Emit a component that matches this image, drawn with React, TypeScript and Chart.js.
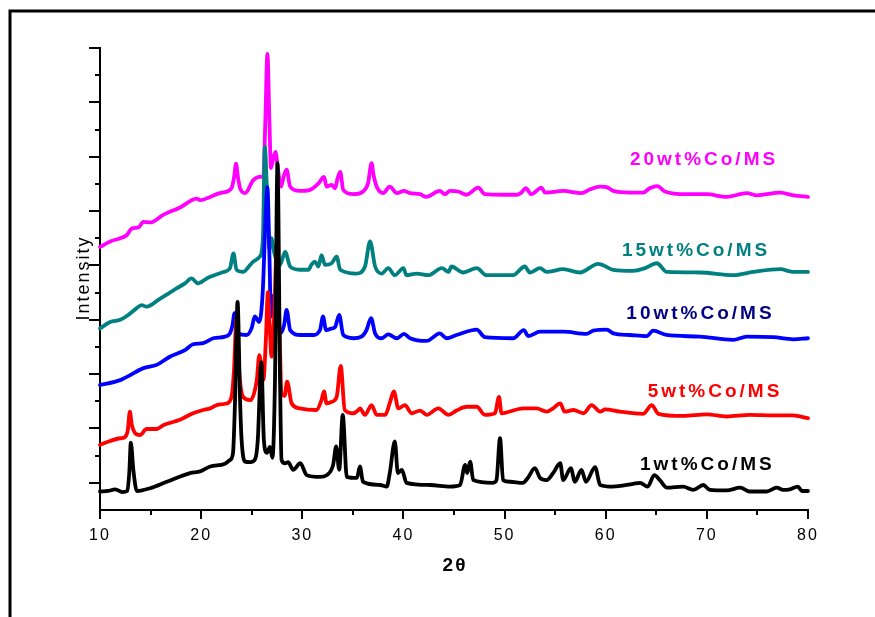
import React, { useEffect, useRef } from "react";
import { Chart, registerables } from "chart.js";

Chart.register(...registerables);

// ---- data (2θ in degrees, intensity in arbitrary offset units) ----
const xTickValues = [10, 20, 30, 40, 50, 60, 70, 80];
const seriesLabels = ["1wt%Co/MS", "5wt%Co/MS", "10wt%Co/MS", "15wt%Co/MS", "20wt%Co/MS"];
const seriesColors = ["#000000", "#ff0000", "#0000ff", "#008080", "#ff00ff"];
const labelTextColors = ["#000000", "#ff0000", "#000080", "#008080", "#ff00ff"];

const co1wt: [number, number][] = [
  [10.0, -16], [10.8, -15], [11.5, -12], [12.2, -17], [12.7, -15], [12.9, 20], [13.05, 74], [13.3, 23], [13.65, -15],
  [14.95, -10], [16.6, 2], [18.9, 18], [19.9, 21], [20.9, 30], [22.35, 35], [22.85, 42], [23.15, 55], [23.35, 150],
  [23.6, 333], [23.85, 150], [24.0, 79], [24.35, 39], [24.85, 38], [25.35, 44], [25.6, 79], [25.95, 222], [26.2, 79],
  [26.5, 55], [26.8, 66], [27.05, 46], [27.3, 189], [27.55, 588], [27.8, 189], [27.95, 42], [28.3, 36], [28.6, 38],
  [29.1, 24], [29.8, 36], [30.45, 14], [31.75, 11], [32.4, 14], [33.05, 33], [33.35, 67], [33.65, 24], [34.0, 125],
  [34.4, 11], [35.4, 9], [35.7, 30], [36.0, 2], [37.7, -4], [38.35, -7], [38.65, 18], [39.15, 76], [39.45, 18],
  [39.85, 24], [40.3, 0], [42.65, -4], [44.6, -7], [45.6, -4], [46.1, 33], [46.3, 18], [46.6, 39], [46.9, 5],
  [48.85, 0], [49.2, 5], [49.55, 82], [49.85, 5], [50.55, 2], [51.8, 0], [52.3, 9], [53.0, 27], [53.5, 9],
  [54.15, 5], [54.8, 18], [55.5, 36], [55.8, 5], [56.55, 27], [56.95, 2], [57.6, 24], [58.05, 2], [58.95, 29],
  [59.45, -4], [60.7, -7], [62.7, -2], [63.4, 0], [64.15, -7], [64.8, 14], [65.35, 5], [66.05, -9], [67.65, -7],
  [68.65, -13], [69.65, -4], [70.3, -13], [71.95, -14], [73.3, -9], [74.25, -16], [75.9, -16], [76.9, -9],
  [77.55, -13], [78.2, -12], [79.0, -7], [79.4, -15], [80.0, -15],
];

const co5wt: [number, number][] = [
  [10.0, 70], [11.0, 77], [12.0, 82], [12.45, 84], [12.75, 97], [12.95, 131], [13.15, 106], [13.45, 92], [13.95, 88],
  [14.6, 99], [15.6, 99], [16.25, 106], [17.9, 116], [19.2, 128], [20.2, 134], [20.9, 137], [21.55, 143], [22.5, 146],
  [23.0, 158], [23.25, 208], [23.5, 303], [23.75, 208], [24.15, 158], [24.85, 152], [25.5, 189], [25.75, 235],
  [26.15, 189], [26.4, 263], [26.6, 351], [26.8, 281], [26.95, 232], [27.2, 300], [27.5, 441], [27.75, 281],
  [27.95, 162], [28.25, 160], [28.5, 186], [28.95, 146], [29.75, 137], [31.4, 134], [31.9, 152], [32.15, 168],
  [32.4, 146], [32.9, 149], [33.4, 158], [33.8, 215], [34.2, 134], [35.05, 128], [35.55, 134], [35.7, 137],
  [36.2, 125], [36.85, 143], [37.35, 125], [38.2, 125], [38.65, 147], [39.05, 168], [39.5, 137], [40.15, 143],
  [40.8, 128], [41.65, 133], [42.3, 125], [43.45, 137], [44.45, 125], [45.25, 133], [46.25, 140], [47.25, 140],
  [48.05, 125], [49.05, 128], [49.45, 158], [49.7, 128], [51.85, 137], [53.15, 137], [54.15, 131], [54.8, 137],
  [55.5, 146], [55.95, 131], [56.8, 134], [57.8, 128], [58.6, 143], [59.45, 131], [59.95, 135], [61.4, 131],
  [63.7, 127], [64.55, 143], [65.2, 127], [67.65, 123], [70.0, 126], [71.95, 122], [74.25, 125], [76.55, 124],
  [78.5, 124], [80.0, 119],
];

const co10wt: [number, number][] = [
  [10.0, 180], [12.0, 189], [12.65, 195], [14.3, 211], [15.6, 217], [16.9, 232], [18.4, 244], [19.2, 255],
  [20.2, 257], [21.2, 266], [22.35, 269], [22.85, 275], [23.1, 290], [23.3, 312], [23.5, 290], [23.65, 275],
  [24.5, 272], [25.0, 285], [25.3, 306], [25.75, 296], [26.1, 355], [26.35, 480], [26.55, 544], [26.75, 420],
  [26.9, 306], [27.1, 340], [27.3, 346], [27.55, 318], [27.8, 275], [28.2, 290], [28.45, 318], [28.8, 281],
  [29.8, 272], [31.1, 272], [31.75, 281], [32.05, 306], [32.35, 281], [32.9, 284], [33.25, 287], [33.65, 309],
  [34.05, 272], [35.05, 266], [35.85, 269], [36.35, 281], [36.8, 303], [37.2, 275], [37.85, 266], [38.5, 273],
  [39.35, 266], [40.05, 274], [40.65, 266], [42.3, 261], [43.6, 275], [44.25, 266], [45.25, 272], [47.25, 282],
  [48.05, 268], [50.85, 266], [51.9, 281], [52.35, 270], [53.5, 278], [55.8, 278], [58.1, 274], [58.75, 280],
  [60.1, 282], [60.75, 275], [62.4, 272], [64.05, 270], [64.7, 280], [66.0, 272], [69.3, 269], [72.6, 263],
  [73.95, 269], [76.55, 268], [78.55, 264], [80.0, 266],
];

const co15wt: [number, number][] = [
  [10.0, 284], [11.0, 296], [12.0, 300], [12.65, 307], [13.6, 321], [14.1, 327], [14.6, 324], [15.95, 339],
  [17.6, 358], [18.4, 367], [19.05, 376], [19.7, 367], [20.55, 376], [20.9, 379], [22.2, 388], [22.85, 395],
  [23.2, 422], [23.5, 392], [24.15, 388], [24.85, 401], [25.15, 407], [25.8, 416], [26.1, 447], [26.3, 618],
  [26.5, 540], [26.75, 430], [26.95, 450], [27.2, 425], [27.45, 410], [27.8, 401], [28.3, 425], [28.8, 398],
  [29.75, 392], [30.6, 392], [30.9, 401], [31.25, 407], [31.6, 398], [31.9, 419], [32.25, 401], [32.9, 404],
  [33.4, 416], [33.75, 392], [35.35, 385], [36.2, 398], [36.7, 444], [37.2, 398], [37.85, 385], [38.5, 395],
  [39.15, 382], [40.0, 395], [40.3, 382], [41.3, 385], [42.45, 382], [43.8, 395], [44.45, 388], [44.75, 398],
  [45.9, 387], [47.25, 395], [48.2, 382], [50.85, 382], [52.0, 398], [52.5, 387], [53.5, 395], [54.15, 388],
  [55.8, 393], [57.45, 387], [59.25, 403], [60.75, 392], [62.7, 390], [63.9, 395], [65.05, 404], [66.05, 388],
  [69.3, 387], [72.6, 382], [74.6, 388], [77.25, 393], [78.55, 388], [80.0, 388],
];

const co20wt: [number, number][] = [
  [10.0, 434], [11.0, 444], [12.0, 450], [12.65, 456], [13.15, 468], [13.8, 470], [14.3, 480], [14.95, 479],
  [16.25, 493], [18.05, 508], [19.05, 520], [19.55, 523], [19.9, 520], [20.9, 526], [21.85, 533], [23.0, 542],
  [23.25, 561], [23.45, 587], [23.65, 561], [23.85, 542], [24.35, 533], [25.15, 557], [25.8, 563], [26.15, 563],
  [26.35, 667], [26.55, 789], [26.75, 667], [26.9, 579], [27.1, 594], [27.35, 609], [27.6, 576], [27.9, 545],
  [28.2, 566], [28.45, 576], [28.8, 545], [29.75, 537], [30.75, 539], [31.6, 551], [32.15, 563], [32.4, 545],
  [32.9, 548], [33.25, 542], [33.5, 561], [33.75, 572], [34.05, 539], [35.05, 531], [36.0, 536], [36.5, 551],
  [36.85, 588], [37.05, 566], [37.35, 545], [38.0, 533], [38.65, 545], [39.35, 533], [40.05, 537], [40.65, 533],
  [41.65, 531], [42.25, 526], [43.6, 537], [44.1, 531], [44.6, 537], [45.4, 536], [46.25, 530], [47.4, 543],
  [48.05, 531], [49.85, 530], [51.2, 530], [51.6, 533], [52.1, 542], [52.65, 531], [53.65, 543], [54.0, 534],
  [55.8, 537], [57.6, 533], [58.45, 540], [59.45, 545], [60.1, 544], [60.75, 537], [62.4, 534], [63.7, 534],
  [64.35, 542], [65.1, 546], [65.85, 536], [68.0, 531], [69.95, 531], [71.95, 526], [73.95, 533], [74.95, 529],
  [77.25, 534], [78.55, 529], [80.0, 526],
];

const allSeries = [co1wt, co5wt, co10wt, co15wt, co20wt];

const FONT = "'Liberation Sans', Arial, sans-serif";

export default function App() {
  const canvasRef = useRef<HTMLCanvasElement | null>(null);

  useEffect(() => {
    const canvas = canvasRef.current;
    if (!canvas) return;

    // label anchors in data coordinates (2θ, intensity)
    const labelAnchors: [number, number][] = [
      [69.9, 34], [70.66, 167], [69.22, 311], [68.78, 427], [69.57, 594],
    ];

    const decor = {
      id: "decor",
      beforeDraw(chart: any) {
        const ctx = chart.ctx as CanvasRenderingContext2D;
        ctx.save();
        ctx.fillStyle = "#ffffff";
        ctx.fillRect(0, 0, chart.width, chart.height);
        ctx.strokeStyle = "#000";
        ctx.lineWidth = 3;
        ctx.beginPath();
        ctx.moveTo(10, chart.height);
        ctx.lineTo(10, 11);
        ctx.lineTo(chart.width, 11);
        ctx.stroke();
        ctx.restore();
        (ctx as any).letterSpacing = "2px";
      },
      afterDraw(chart: any) {
        const ctx = chart.ctx as CanvasRenderingContext2D;
        const { x, y } = chart.scales;
        const area = chart.chartArea;
        ctx.save();
        ctx.strokeStyle = "#000";
        ctx.lineWidth = 2;
        for (let v = x.min; v <= x.max; v += 5) {
          const px = Math.round(x.getPixelForValue(v));
          const len = v % 10 === 0 ? 9 : 5;
          ctx.beginPath();
          ctx.moveTo(px, area.bottom);
          ctx.lineTo(px, area.bottom + len);
          ctx.stroke();
        }
        for (let v = 0; v <= y.max; v += 50) {
          const py = Math.round(y.getPixelForValue(v));
          const len = v % 100 === 0 ? 11 : 5;
          ctx.beginPath();
          ctx.moveTo(area.left, py);
          ctx.lineTo(area.left - len, py);
          ctx.stroke();
        }
        ctx.fillStyle = "#000";
        (ctx as any).letterSpacing = "2px";
        ctx.textAlign = "center";
        ctx.textBaseline = "middle";
        ctx.font = `bold 19px ${FONT}`;
        ctx.fillText("2\u03b8", (area.left + area.right) / 2 + 1, 566);
        ctx.save();
        ctx.translate(84, (area.top + area.bottom) / 2);
        ctx.rotate(-Math.PI / 2);
        ctx.font = `18px ${FONT}`;
        ctx.fillText("Intensity", 1, 0);
        ctx.restore();

        (ctx as any).letterSpacing = "3px";
        ctx.font = `bold 19px ${FONT}`;
        seriesLabels.forEach((t, i) => {
          ctx.fillStyle = labelTextColors[i];
          const [lx, ly] = labelAnchors[i];
          ctx.fillText(t, x.getPixelForValue(lx) + 1.5, y.getPixelForValue(ly));
        });
        ctx.restore();
        (ctx as any).letterSpacing = "0px";
      },
    };

    const chart = new Chart(canvas, {
      type: "line",
      data: {
        datasets: allSeries.map((s, i) => ({
          label: seriesLabels[i],
          data: s.map(([a, b]) => ({ x: a, y: b })),
          borderColor: seriesColors[i],
          backgroundColor: seriesColors[i],
          borderWidth: 3.8,
          pointRadius: 0,
          fill: false,
          cubicInterpolationMode: "monotone" as const,
          borderJoinStyle: "round" as const,
          borderCapStyle: "round" as const,
          clip: false as any,
        })),
      },
      options: {
        responsive: false,
        animation: false,
        events: [],
        layout: { padding: { left: 100, right: 67, top: 48, bottom: 0 } },
        plugins: { legend: { display: false }, tooltip: { enabled: false }, title: { display: false } },
        scales: {
          x: {
            type: "linear",
            min: 10,
            max: 80,
            afterFit: (s: any) => { s.height = 107; },
            afterBuildTicks: (s: any) => { s.ticks = xTickValues.map((v) => ({ value: v })); },
            ticks: {
              color: "#000",
              font: { family: FONT, size: 16 },
              padding: 16,
              maxRotation: 0,
              autoSkip: false,
            },
            grid: { display: true, drawOnChartArea: false, drawTicks: false },
            border: { display: true, color: "#000", width: 2 },
          },
          y: {
            type: "linear",
            min: -50,
            max: 800,
            afterFit: (s: any) => { s.width = 0; },
            ticks: { display: false, stepSize: 50 },
            grid: { display: true, drawOnChartArea: false, drawTicks: false },
            border: { display: true, color: "#000", width: 2 },
          },
        },
      },
      plugins: [decor],
    });

    return () => chart.destroy();
  }, []);

  return (
    <div style={{ position: "absolute", left: 0, top: 0, width: 875, height: 617, background: "#fff" }}>
      <canvas ref={canvasRef} width={875} height={617} style={{ display: "block" }} />
    </div>
  );
}
